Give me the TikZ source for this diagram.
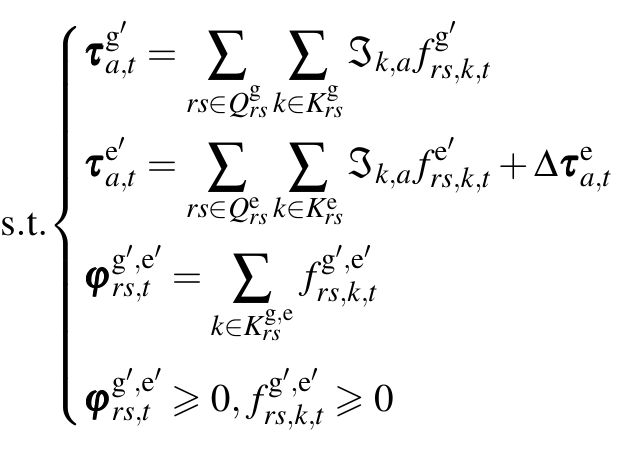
\documentclass[tikz,border=0pt]{standalone}
\usepackage{amsmath,amssymb}
\usepackage{mathptmx}
\usepackage{bm}
\begin{document}
\begin{tikzpicture}[x=1pt,y=1pt]
\useasboundingbox (0,0) rectangle (319.5,227);
\node[anchor=west,inner sep=0pt,font=\fontsize{19.6}{24}\selectfont] (eq) at (0,114) {$
\mathrm{s.t.}\!\left\{
\begin{aligned}
&\bm{\tau}_{a,t}^{\mathrm{g}'}=\sum_{rs\in Q_{rs}^{\mathrm{g}}}\sum_{k\in K_{rs}^{\mathrm{g}}}\Im_{k,a}f_{rs,k,t}^{\mathrm{g}'}\\[4pt]
&\bm{\tau}_{a,t}^{\mathrm{e}'}=\sum_{rs\in Q_{rs}^{\mathrm{e}}}\sum_{k\in K_{rs}^{\mathrm{e}}}\Im_{k,a}f_{rs,k,t}^{\mathrm{e}'}+\Delta\bm{\tau}_{a,t}^{\mathrm{e}}\\[4pt]
&\bm{\varphi}_{rs,t}^{\mathrm{g}',\mathrm{e}'}=\sum_{k\in K_{rs}^{\mathrm{g},\mathrm{e}}}f_{rs,k,t}^{\mathrm{g}',\mathrm{e}'}\\[8pt]
&\bm{\varphi}_{rs,t}^{\mathrm{g}',\mathrm{e}'}\geqslant 0,f_{rs,k,t}^{\mathrm{g}',\mathrm{e}'}\geqslant 0
\end{aligned}\right.$};
\end{tikzpicture}
\end{document}
